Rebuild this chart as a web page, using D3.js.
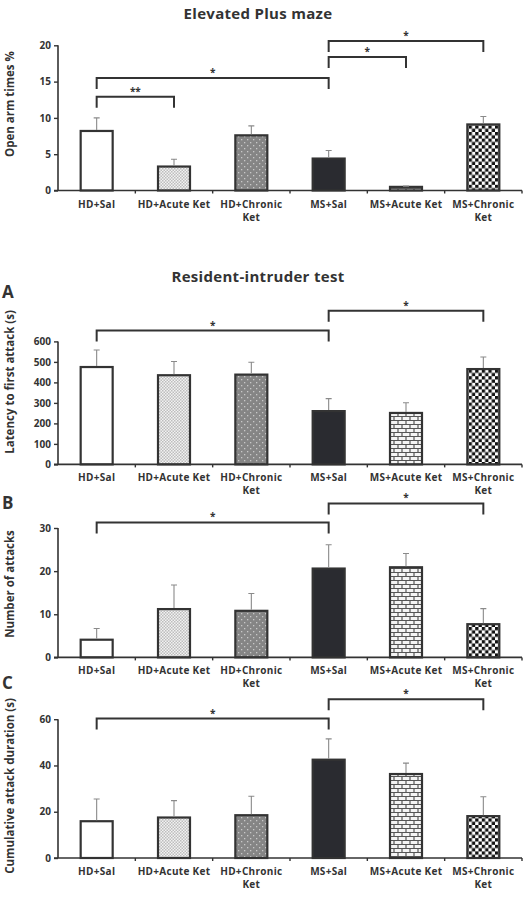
<!DOCTYPE html>
<html>
<head>
<meta charset="utf-8">
<script src="https://cdn.jsdelivr.net/npm/d3@7"></script>
<style>
	body { margin: 0; background: #fff; }
	text { font-family: "Open Sans", "Noto Sans", sans-serif; fill: #333; }
</style>
</head>
<body>
<script>
// groups on the x axis
var groups = ["HD+Sal", "HD+Acute Ket", "HD+Chronic Ket", "MS+Sal", "MS+Acute Ket", "MS+Chronic Ket"];
var groupLabels = [["HD+Sal"], ["HD+Acute Ket"], ["HD+Chronic", "Ket"], ["MS+Sal"], ["MS+Acute Ket"], ["MS+Chronic", "Ket"]];

// Elevated plus maze: open arm time %
var epmMean = [8.2, 3.3, 7.6, 4.4, 0.5, 9.1];
var epmSem = [1.8, 1.0, 1.3, 1.1, 0.1, 1.1];
var epmTicks = [0, 5, 10, 15, 20];

// Resident-intruder A: latency to first attack (s)
var latMean = [475, 435, 438, 260, 251, 465];
var latSem = [83, 67, 60, 61, 50, 59];
var latTicks = [0, 100, 200, 300, 400, 500, 600];

// B: number of attacks
var atkMean = [4.1, 11.2, 10.8, 20.6, 20.9, 7.7];
var atkSem = [2.6, 5.6, 4.0, 5.5, 3.2, 3.6];
var atkTicks = [0, 10, 20, 30];

// C: cumulative attack duration (s)
var durMean = [15.9, 17.5, 18.5, 42.5, 36.3, 18.1];
var durSem = [9.6, 7.3, 8.2, 9.0, 4.7, 8.4];
var durTicks = [0, 20, 40, 60];

// significance brackets: [from group, to group, label, top (data units)]
var epmSig = [[0, 1, "**", 12.9], [0, 3, "*", 15.5], [3, 4, "*", 18.4], [3, 5, "*", 20.6]];
var latSig = [[0, 3, "*", 653], [3, 5, "*", 750]];
var atkSig = [[0, 3, "*", 31.3], [3, 5, "*", 35.7]];
var durSig = [[0, 3, "*", 60.3], [3, 5, "*", 68.6]];

var svg = d3.select("body").append("svg")
	.attr("width", 527)
	.attr("height", 914);

// fill patterns for the bars
var defs = svg.append("defs");

var p1 = defs.append("pattern").attr("id", "pat1").attr("patternUnits", "userSpaceOnUse")
	.attr("width", 3).attr("height", 3);
p1.append("rect").attr("width", 3).attr("height", 3).attr("fill", "#f2f2f2");
p1.append("rect").attr("x", 0).attr("y", 0).attr("width", 1.5).attr("height", 1.5).attr("fill", "#bdbdbd");
p1.append("rect").attr("x", 1.5).attr("y", 1.5).attr("width", 1.5).attr("height", 1.5).attr("fill", "#bdbdbd");

var p2 = defs.append("pattern").attr("id", "pat2").attr("patternUnits", "userSpaceOnUse")
	.attr("width", 6).attr("height", 6);
p2.append("rect").attr("width", 6).attr("height", 6).attr("fill", "#858585");
p2.append("rect").attr("x", 1).attr("y", 1).attr("width", 1.3).attr("height", 1.3).attr("fill", "#c8c8c8");
p2.append("rect").attr("x", 4).attr("y", 4).attr("width", 1.3).attr("height", 1.3).attr("fill", "#c8c8c8");

var p3 = defs.append("pattern").attr("id", "pat3").attr("patternUnits", "userSpaceOnUse")
	.attr("width", 8).attr("height", 8);
p3.append("rect").attr("width", 8).attr("height", 8).attr("fill", "#f4f4f4");
p3.append("path")
	.attr("d", "M0,0.5H8M0,4.5H8M2,0.5V4.5M6,4.5V8.5")
	.attr("stroke", "#555").attr("stroke-width", 1.2).attr("fill", "none");

var p4 = defs.append("pattern").attr("id", "pat4").attr("patternUnits", "userSpaceOnUse")
	.attr("width", 6.6).attr("height", 6.6);
p4.append("rect").attr("width", 6.6).attr("height", 6.6).attr("fill", "#fff");
p4.append("rect").attr("x", 0).attr("y", 0).attr("width", 3.3).attr("height", 3.3).attr("fill", "#111");
p4.append("rect").attr("x", 3.3).attr("y", 3.3).attr("width", 3.3).attr("height", 3.3).attr("fill", "#111");

var fills = ["#fff", "url(#pat1)", "url(#pat2)", "#2a2b30", "url(#pat3)", "url(#pat4)"];

var x = d3.scaleBand()
	.domain(groups)
	.range([58, 522]);

// draws one bar panel
function drawPanel(o) {
	var y = d3.scaleLinear()
		.domain([0, o.ticks[o.ticks.length - 1]])
		.range([o.y0, o.y1]);
	var g = svg.append("g");
	var bw = 32;

	// bars
	g.selectAll(".bar")
		.data(o.mean)
		.enter().append("rect")
		.attr("x", function(d, i) { return x(groups[i]) + x.bandwidth() / 2 - bw / 2; })
		.attr("y", function(d) { return y(d); })
		.attr("width", bw)
		.attr("height", function(d) { return o.y0 - y(d); })
		.attr("fill", function(d, i) { return fills[i]; })
		.attr("stroke", "#333")
		.attr("stroke-width", 2.2);

	// error bars (upper only)
	g.selectAll(".err")
		.data(o.mean)
		.enter().append("path")
		.attr("d", function(d, i) {
			var cx = x(groups[i]) + x.bandwidth() / 2;
			var top = y(d + o.sem[i]);
			return "M" + cx + "," + (y(d) - 1) + "V" + top + "M" + (cx - 3) + "," + top + "H" + (cx + 3);
		})
		.attr("stroke", "#8a8a8a")
		.attr("stroke-width", 1.1)
		.attr("fill", "none");

	// y axis
	var ay = g.append("g")
		.attr("transform", "translate(58,0)")
		.call(d3.axisLeft(y).tickValues(o.ticks).tickSize(4).tickPadding(3));
	ay.select(".domain").attr("stroke", "#333").attr("stroke-width", 1.6)
		.attr("d", "M0," + o.y0 + "V" + o.y1);
	ay.selectAll(".tick line").attr("stroke", "#333").attr("stroke-width", 1.4);
	ay.selectAll(".tick text")
		.style("font-family", "'Open Sans', sans-serif")
		.style("font-weight", "bold")
		.style("font-size", "10px")
		.attr("fill", "#333");

	// x axis
	g.append("path")
		.attr("d", "M54," + o.y0 + "H522")
		.attr("stroke", "#333").attr("stroke-width", 1.6);
	g.selectAll(".xt")
		.data(groups.slice(1).concat(["end"]))
		.enter().append("path")
		.attr("d", function(d) {
			var xx = d == "end" ? 522 : x(d);
			return "M" + xx + "," + o.y0 + "v3";
		})
		.attr("stroke", "#333").attr("stroke-width", 1.4);

	// category labels
	var lab = g.selectAll(".lab")
		.data(groupLabels)
		.enter().append("text")
		.attr("x", function(d, i) { return x(groups[i]) + x.bandwidth() / 2; })
		.attr("y", o.y0 + 17)
		.style("text-anchor", "middle")
		.style("font-weight", "bold")
		.style("font-size", "10px")
		.style("letter-spacing", "0.3px");
	lab.selectAll("tspan")
		.data(function(d) { return d; })
		.enter().append("tspan")
		.attr("x", function() { return this.parentNode.getAttribute("x"); })
		.attr("dy", function(d, j) { return j == 0 ? 0 : 13; })
		.text(function(d) { return d; });

	// y label
	g.append("text")
		.attr("transform", "translate(14," + o.labelY + ") rotate(-90)")
		.style("text-anchor", "middle")
		.style("font-weight", "bold")
		.style("font-size", "11.5px")
		.text(o.label);

	// significance brackets
	o.sig.forEach(function(s) {
		var xa = x(groups[s[0]]) + x.bandwidth() / 2;
		var xb = x(groups[s[1]]) + x.bandwidth() / 2;
		var top = y(s[3]);
		g.append("path")
			.attr("d", "M" + xa + "," + (top + 11) + "V" + top + "H" + xb + "V" + (top + 11))
			.attr("stroke", "#333").attr("stroke-width", 2).attr("fill", "none");
		g.append("text")
			.attr("x", (xa + xb) / 2)
			.attr("y", top - 2)
			.style("text-anchor", "middle")
			.style("font-weight", "bold")
			.style("font-size", "10px")
			.text(s[2]);
	});
}

// titles and panel letters
svg.append("text").attr("x", 258).attr("y", 19)
	.style("text-anchor", "middle").style("font-weight", "bold").style("font-size", "15px")
	.style("letter-spacing", "0.3px")
	.text("Elevated Plus maze");
svg.append("text").attr("x", 258).attr("y", 282)
	.style("text-anchor", "middle").style("font-weight", "bold").style("font-size", "15px")
	.style("letter-spacing", "0.3px")
	.text("Resident-intruder test");
[["A", 298], ["B", 509], ["C", 689]].forEach(function(l) {
	svg.append("text").attr("x", 2).attr("y", l[1])
		.style("font-weight", "bold").style("font-size", "17px").attr("fill", "#111")
		.text(l[0]);
});

drawPanel({ mean: epmMean, sem: epmSem, ticks: epmTicks, y0: 190.5, y1: 45.3, sig: epmSig, label: "Open arm times %", labelY: 104 });
drawPanel({ mean: latMean, sem: latSem, ticks: latTicks, y0: 464.4, y1: 341.4, sig: latSig, label: "Latency to first attack (s)", labelY: 382 });
drawPanel({ mean: atkMean, sem: atkSem, ticks: atkTicks, y0: 657.4, y1: 528, sig: atkSig, label: "Number of attacks", labelY: 584 });
drawPanel({ mean: durMean, sem: durSem, ticks: durTicks, y0: 858, y1: 719.2, sig: durSig, label: "Cumulative attack duration (s)", labelY: 786 });
</script>
</body>
</html>
